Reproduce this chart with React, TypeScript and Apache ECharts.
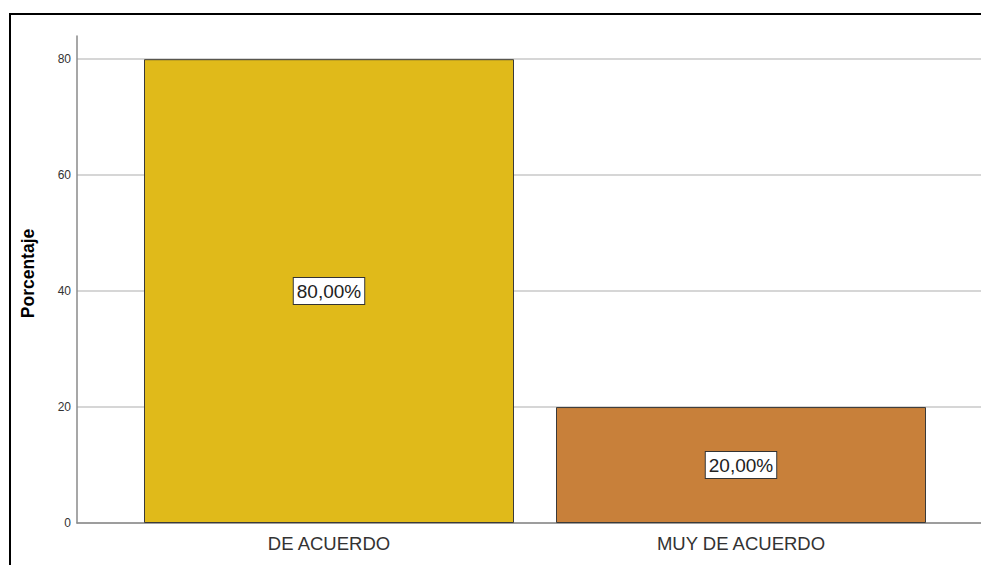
import React, { useEffect, useRef } from "react";
import * as echarts from "echarts";

const categories = ["DE ACUERDO", "MUY DE ACUERDO"];
const percentages = [80, 20];
const barColors = ["#E0BA1A", "#C8803A"];
const yTicks = [0, 20, 40, 60, 80];

export default function App() {
  const ref = useRef<HTMLDivElement>(null);
  useEffect(() => {
    if (!ref.current) return;
    const chart = echarts.init(ref.current, undefined, { renderer: "svg" });
    const font = "'Liberation Sans', Arial, sans-serif";
    chart.setOption({
      animation: false,
      backgroundColor: "#ffffff",
      textStyle: { fontFamily: font },
      grid: [
        { left: 77, right: 0, top: 36, bottom: 42 },
        { left: 123, right: 34, top: 36, bottom: 42 },
      ],
      xAxis: [
        {
          gridIndex: 0,
          type: "value",
          min: 0,
          max: 1,
          axisLine: { show: true, lineStyle: { color: "#8a8a8a", width: 1.5 } },
          axisTick: { show: false },
          axisLabel: { show: false },
          splitLine: { show: false },
        },
        {
          gridIndex: 1,
          type: "category",
          data: categories,
          axisLine: { show: false },
          axisTick: { show: false },
          axisLabel: { fontSize: 18.5, color: "#333", margin: 11, fontFamily: font },
          splitLine: { show: false },
        },
      ],
      yAxis: [
        {
          gridIndex: 0,
          type: "value",
          min: yTicks[0],
          max: 84,
          interval: 20,
          name: "Porcentaje",
          nameLocation: "middle",
          nameGap: 40,
          nameTextStyle: { fontSize: 17.5, fontWeight: "bold", color: "#000", fontFamily: font, padding: [0, 0, 0, 12] },
          axisLine: { show: true, lineStyle: { color: "#8a8a8a", width: 1.5 } },
          axisTick: { show: false },
          axisLabel: {
            fontSize: 12,
            color: "#333",
            margin: 6,
            showMaxLabel: false,
            fontFamily: font,
            formatter: (v: number) => (yTicks.includes(v) ? String(v) : ""),
          },
          splitLine: { show: true, showMaxLine: false, lineStyle: { color: "#d6d6d6", width: 2 } },
        },
        {
          gridIndex: 1,
          type: "value",
          min: 0,
          max: 84,
          show: false,
          splitLine: { show: false },
        },
      ],
      series: [
        {
          type: "bar",
          xAxisIndex: 1,
          yAxisIndex: 1,
          barWidth: 370,
          data: percentages.map((v, i) => ({
            value: v,
            itemStyle: { color: barColors[i], borderColor: "#3a3a3a", borderWidth: 1 },
          })),
          label: {
            show: true,
            position: "inside",
            formatter: (p: any) => p.value.toFixed(2).replace(".", ",") + "%",
            fontSize: 19,
            color: "#222",
            fontFamily: font,
            backgroundColor: "#ffffff",
            borderColor: "#333",
            borderWidth: 1,
            padding: [4, 3, 3, 3],
          },
        },
      ],
      graphic: [
        {
          type: "rect",
          shape: { x: 10, y: 14, width: 1000, height: 600 },
          style: { fill: "none", stroke: "#000", lineWidth: 2 },
          z: 100,
        },
      ],
    });
    return () => chart.dispose();
  }, []);
  return (
    <div
      ref={ref}
      style={{ position: "fixed", left: 0, top: 0, width: 981, height: 565 }}
    />
  );
}
